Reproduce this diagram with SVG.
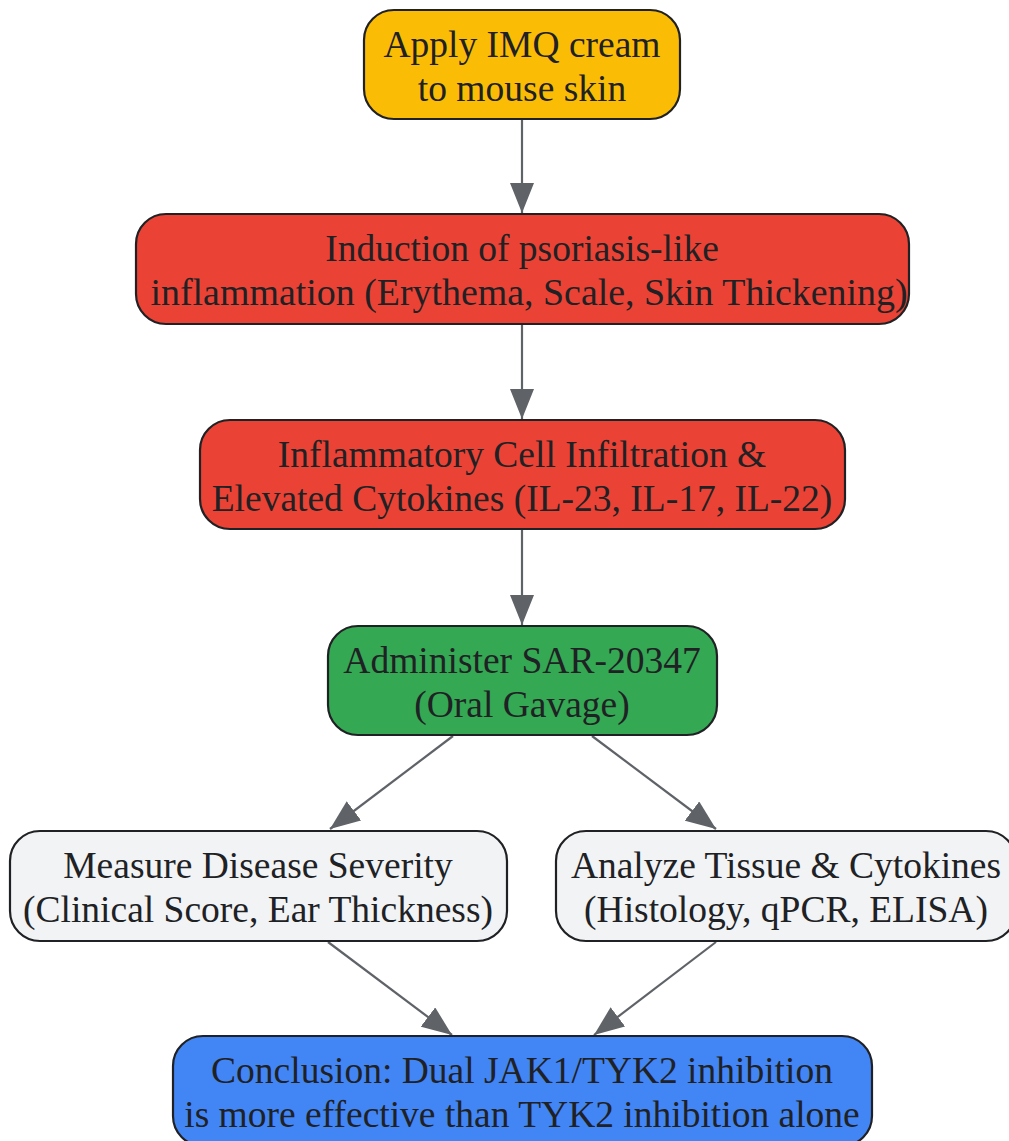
<svg xmlns="http://www.w3.org/2000/svg" width="1009" height="1141" viewBox="0 0 1009 1141">
<style>
.box{stroke:#202124;stroke-width:2.2}
.t{font-family:"Liberation Serif","Times New Roman",serif;font-size:37.5px;fill:#202124;text-anchor:middle}
.e{stroke:#5f6368;stroke-width:2.2;fill:none;marker-end:url(#ah)}
</style>
<defs>
<marker id="ah" markerUnits="userSpaceOnUse" markerWidth="32" markerHeight="24" refX="30" refY="12" orient="auto">
<path d="M0,0 L30,12 L0,24 Z" fill="#5f6368"/>
</marker>
</defs>
<rect width="1009" height="1141" fill="#ffffff"/>
<g id="edges">
<path class="e" d="M522,119 L522,213"/>
<path class="e" d="M522,324 L522,419"/>
<path class="e" d="M522,529 L522,625"/>
<path class="e" d="M453,736 L330,829"/>
<path class="e" d="M592,736 L716,829"/>
<path class="e" d="M328,942 L452,1035"/>
<path class="e" d="M716,942 L594,1035"/>
</g>
<g id="n1">
<rect class="box" x="364" y="10" width="316" height="109" rx="30" fill="#fbbc05"/>
<text class="t" x="522" y="57">Apply IMQ cream</text>
<text class="t" x="522" y="101">to mouse skin</text>
</g>
<g id="n2">
<rect class="box" x="136" y="214" width="773" height="110" rx="30" fill="#ea4335"/>
<text class="t" x="522" y="261">Induction of psoriasis-like</text>
<text class="t" x="529" y="305" textLength="757" lengthAdjust="spacingAndGlyphs">inflammation (Erythema, Scale, Skin Thickening)</text>
</g>
<g id="n3">
<rect class="box" x="200" y="420" width="645" height="109" rx="30" fill="#ea4335"/>
<text class="t" x="522" y="467">Inflammatory Cell Infiltration &amp;</text>
<text class="t" x="522" y="511">Elevated Cytokines (IL-23, IL-17, IL-22)</text>
</g>
<g id="n4">
<rect class="box" x="328" y="626" width="389" height="109" rx="30" fill="#34a853"/>
<text class="t" x="522" y="673">Administer SAR-20347</text>
<text class="t" x="522" y="717">(Oral Gavage)</text>
</g>
<g id="n5">
<rect class="box" x="10" y="831" width="497" height="110" rx="30" fill="#f1f3f4"/>
<text class="t" x="258" y="878">Measure Disease Severity</text>
<text class="t" x="258" y="922">(Clinical Score, Ear Thickness)</text>
</g>
<g id="n6">
<rect class="box" x="556" y="831" width="460" height="110" rx="30" fill="#f1f3f4"/>
<text class="t" x="786" y="878">Analyze Tissue &amp; Cytokines</text>
<text class="t" x="786" y="922">(Histology, qPCR, ELISA)</text>
</g>
<g id="n7">
<rect class="box" x="173" y="1036" width="699" height="110" rx="30" fill="#4285f4"/>
<text class="t" x="522" y="1083">Conclusion: Dual JAK1/TYK2 inhibition</text>
<text class="t" x="522" y="1127">is more effective than TYK2 inhibition alone</text>
</g>
</svg>
